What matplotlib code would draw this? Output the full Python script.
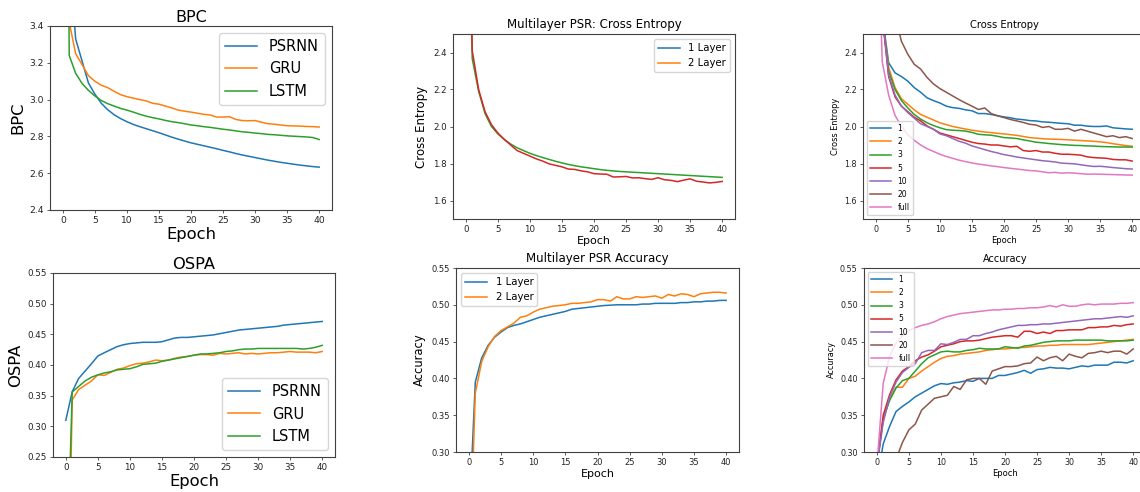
import numpy as np
import matplotlib
matplotlib.use('Agg')
import matplotlib.pyplot as plt
from matplotlib.lines import Line2D

plt.rcParams['font.family'] = ['DejaVu Sans']
plt.rcParams['axes.edgecolor'] = '#404040'
plt.rcParams['xtick.color'] = '#404040'
plt.rcParams['ytick.color'] = '#404040'
plt.rcParams['xtick.labelcolor'] = '#222222'
plt.rcParams['ytick.labelcolor'] = '#222222'

epochs = np.arange(41)

# BPC
bpc_psrnn = [5.0, 3.8, 3.33, 3.21, 3.09, 3.03, 2.98, 2.945, 2.918, 2.897, 2.88, 2.865, 2.853, 2.842, 2.831,
             2.82, 2.808, 2.796, 2.785, 2.775, 2.765, 2.757, 2.749, 2.741, 2.733, 2.724, 2.716, 2.707,
             2.699, 2.692, 2.685, 2.678, 2.671, 2.665, 2.659, 2.654, 2.649, 2.644, 2.640, 2.636, 2.633]
bpc_gru = [4.5, 3.42, 3.25, 3.19, 3.13, 3.10, 3.078, 3.065, 3.045, 3.027, 3.016, 3.008, 3.0, 2.993, 2.98,
           2.975, 2.965, 2.955, 2.943, 2.937, 2.932, 2.926, 2.92, 2.916, 2.905, 2.905, 2.907, 2.892,
           2.886, 2.885, 2.886, 2.877, 2.869, 2.866, 2.862, 2.858, 2.857, 2.856, 2.854, 2.853, 2.851]
bpc_lstm = [8.0, 3.24, 3.143, 3.088, 3.05, 3.02, 2.995, 2.978, 2.965, 2.952, 2.943, 2.932, 2.92, 2.91,
            2.902, 2.895, 2.887, 2.88, 2.875, 2.869, 2.862, 2.858, 2.853, 2.849, 2.844, 2.839, 2.835,
            2.83, 2.825, 2.822, 2.818, 2.815, 2.811, 2.809, 2.806, 2.803, 2.801, 2.799, 2.797, 2.794, 2.783]

# OSPA
ospa_psrnn = [0.310, 0.3565, 0.378, 0.39, 0.402, 0.4147, 0.42, 0.425, 0.43, 0.433, 0.435, 0.436, 0.437,
              0.437, 0.437, 0.438, 0.441, 0.444, 0.445, 0.445, 0.446, 0.447, 0.448, 0.449, 0.451, 0.453,
              0.455, 0.457, 0.458, 0.459, 0.46, 0.461, 0.462, 0.463, 0.465, 0.466, 0.467, 0.468, 0.469,
              0.47, 0.471]
ospa_gru = [-0.2, 0.343, 0.36, 0.367, 0.374, 0.384, 0.383, 0.388, 0.393, 0.395, 0.399, 0.402, 0.403, 0.405,
            0.408, 0.407, 0.408, 0.411, 0.413, 0.414, 0.416, 0.417, 0.417, 0.416, 0.419, 0.418, 0.419,
            0.42, 0.418, 0.419, 0.418, 0.419, 0.42, 0.42, 0.421, 0.422, 0.421, 0.421, 0.421, 0.42, 0.422]
ospa_lstm = [0.0, 0.356, 0.365, 0.374, 0.38, 0.384, 0.387, 0.389, 0.392, 0.393, 0.394, 0.397, 0.401, 0.402,
             0.403, 0.406, 0.408, 0.41, 0.412, 0.414, 0.416, 0.418, 0.418, 0.419, 0.42, 0.422, 0.423,
             0.425, 0.426, 0.426, 0.427, 0.427, 0.427, 0.427, 0.427, 0.427, 0.427, 0.426, 0.427, 0.429, 0.432]

# Multilayer PSR cross entropy
ml_ce_1 = [4.0, 2.367, 2.19, 2.07, 2.0, 1.96, 1.93, 1.905, 1.885, 1.87, 1.855, 1.843, 1.832, 1.822, 1.812,
           1.803, 1.795, 1.788, 1.782, 1.777, 1.772, 1.767, 1.763, 1.76, 1.757, 1.755, 1.753, 1.751,
           1.749, 1.747, 1.745, 1.743, 1.741, 1.739, 1.737, 1.735, 1.733, 1.731, 1.729, 1.727, 1.725]
ml_ce_2 = [4.5, 2.41, 2.2, 2.08, 2.01, 1.965, 1.93, 1.9, 1.87, 1.855, 1.84, 1.825, 1.813, 1.798, 1.79,
           1.782, 1.77, 1.768, 1.76, 1.755, 1.745, 1.743, 1.742, 1.727, 1.728, 1.73, 1.722, 1.723,
           1.718, 1.714, 1.723, 1.712, 1.709, 1.702, 1.71, 1.717, 1.704, 1.7, 1.695, 1.698, 1.703]

# Multilayer PSR accuracy
ml_acc_1 = [0.2, 0.395, 0.428, 0.445, 0.456, 0.463, 0.469, 0.472, 0.474, 0.477, 0.48, 0.483, 0.485, 0.487,
            0.489, 0.491, 0.494, 0.495, 0.496, 0.497, 0.498, 0.499, 0.4995, 0.5, 0.5, 0.5, 0.5, 0.501,
            0.501, 0.502, 0.502, 0.502, 0.502, 0.503, 0.503, 0.504, 0.504, 0.505, 0.505, 0.506, 0.506]
ml_acc_2 = [0.11, 0.38, 0.423, 0.443, 0.457, 0.465, 0.47, 0.475, 0.483, 0.485, 0.49, 0.494, 0.496, 0.498,
            0.499, 0.5, 0.502, 0.502, 0.503, 0.504, 0.507, 0.507, 0.505, 0.511, 0.508, 0.508, 0.511,
            0.51, 0.511, 0.512, 0.509, 0.514, 0.512, 0.515, 0.514, 0.511, 0.515, 0.516, 0.517, 0.517, 0.516]

# Cross entropy by window
window_labels = ['1', '2', '3', '5', '10', '20', 'full']
ce_w1 = [3.2, 2.6, 2.345, 2.29, 2.27, 2.245, 2.21, 2.185, 2.155, 2.14, 2.127, 2.11, 2.102, 2.098, 2.09,
         2.085, 2.07, 2.07, 2.065, 2.058, 2.052, 2.047, 2.04, 2.037, 2.032, 2.03, 2.025, 2.023, 2.02,
         2.017, 2.015, 2.007, 2.007, 2.002, 2.0, 2.0, 2.003, 1.993, 1.99, 1.987, 1.985]
ce_w2 = [3.5, 2.6, 2.32, 2.21, 2.15, 2.12, 2.09, 2.065, 2.05, 2.035, 2.02, 2.01, 2.0, 1.993, 1.986, 1.98,
         1.975, 1.97, 1.967, 1.963, 1.96, 1.956, 1.952, 1.946, 1.94, 1.937, 1.934, 1.932, 1.931, 1.93,
         1.928, 1.926, 1.924, 1.922, 1.92, 1.917, 1.913, 1.907, 1.902, 1.897, 1.893]
ce_w3 = [3.5, 2.6, 2.3, 2.2, 2.14, 2.1, 2.065, 2.04, 2.02, 2.005, 1.993, 1.983, 1.98, 1.978, 1.975, 1.968,
         1.958, 1.955, 1.953, 1.947, 1.94, 1.938, 1.935, 1.928, 1.922, 1.915, 1.912, 1.908, 1.905,
         1.902, 1.9, 1.898, 1.897, 1.895, 1.894, 1.892, 1.891, 1.89, 1.889, 1.889, 1.889]
ce_w5 = [3.5, 2.6, 2.27, 2.16, 2.11, 2.08, 2.05, 2.03, 2.003, 1.985, 1.965, 1.955, 1.945, 1.935, 1.925,
         1.915, 1.908, 1.905, 1.9, 1.9, 1.895, 1.89, 1.893, 1.87, 1.866, 1.87, 1.862, 1.862, 1.855,
         1.85, 1.85, 1.848, 1.845, 1.836, 1.832, 1.83, 1.828, 1.822, 1.82, 1.82, 1.813]
ce_w10 = [3.5, 2.6, 2.28, 2.17, 2.11, 2.075, 2.045, 2.015, 2.0, 1.985, 1.96, 1.95, 1.935, 1.92, 1.91,
          1.895, 1.885, 1.875, 1.865, 1.857, 1.848, 1.842, 1.835, 1.83, 1.825, 1.82, 1.815, 1.812,
          1.808, 1.802, 1.8, 1.798, 1.793, 1.788, 1.784, 1.785, 1.782, 1.778, 1.775, 1.772, 1.77]
ce_w20 = [4.0, 3.5, 3.0, 2.6, 2.46, 2.39, 2.336, 2.31, 2.265, 2.23, 2.205, 2.185, 2.165, 2.145, 2.127,
          2.11, 2.092, 2.10, 2.07, 2.058, 2.048, 2.038, 2.03, 2.022, 2.012, 2.008, 1.995, 2.0, 1.985,
          1.985, 1.99, 1.975, 1.985, 1.975, 1.965, 1.955, 1.945, 1.95, 1.94, 1.945, 1.935]
ce_full = [3.5, 2.35, 2.17, 2.06, 2.0, 1.955, 1.925, 1.9, 1.88, 1.865, 1.85, 1.838, 1.828, 1.818, 1.81,
           1.803, 1.797, 1.792, 1.787, 1.783, 1.778, 1.774, 1.77, 1.766, 1.762, 1.76, 1.755, 1.75,
           1.752, 1.748, 1.75, 1.748, 1.745, 1.742, 1.743, 1.742, 1.741, 1.74, 1.739, 1.738, 1.737]

# Accuracy by window
acc_w1 = [0.26, 0.311, 0.335, 0.355, 0.362, 0.368, 0.375, 0.38, 0.385, 0.39, 0.393, 0.392, 0.394, 0.395,
          0.397, 0.396, 0.4, 0.4, 0.4, 0.404, 0.404, 0.406, 0.408, 0.411, 0.407, 0.412, 0.413, 0.415,
          0.414, 0.414, 0.413, 0.415, 0.417, 0.416, 0.418, 0.418, 0.418, 0.422, 0.422, 0.421, 0.424]
acc_w2 = [0.28, 0.345, 0.372, 0.388, 0.388, 0.4, 0.403, 0.41, 0.416, 0.422, 0.427, 0.43, 0.431, 0.433,
          0.434, 0.435, 0.436, 0.438, 0.439, 0.44, 0.44, 0.441, 0.442, 0.442, 0.443, 0.444, 0.444,
          0.445, 0.445, 0.446, 0.446, 0.446, 0.446, 0.446, 0.447, 0.448, 0.449, 0.45, 0.451, 0.452, 0.453]
acc_w3 = [0.28, 0.345, 0.37, 0.387, 0.397, 0.4, 0.41, 0.42, 0.428, 0.432, 0.436, 0.437, 0.436, 0.436,
          0.438, 0.439, 0.441, 0.44, 0.44, 0.44, 0.443, 0.442, 0.441, 0.444, 0.445, 0.447, 0.449, 0.45,
          0.451, 0.451, 0.451, 0.452, 0.452, 0.452, 0.452, 0.452, 0.451, 0.451, 0.451, 0.451, 0.452]
acc_w5 = [0.28, 0.35, 0.378, 0.398, 0.41, 0.416, 0.424, 0.429, 0.432, 0.437, 0.443, 0.445, 0.447, 0.45,
          0.451, 0.451, 0.452, 0.454, 0.456, 0.457, 0.458, 0.458, 0.456, 0.464, 0.464, 0.461, 0.463,
          0.461, 0.465, 0.465, 0.466, 0.466, 0.466, 0.469, 0.469, 0.47, 0.47, 0.472, 0.471, 0.473, 0.474]
acc_w10 = [0.28, 0.34, 0.375, 0.395, 0.408, 0.415, 0.42, 0.435, 0.438, 0.438, 0.447, 0.446, 0.449, 0.453,
           0.453, 0.458, 0.458, 0.461, 0.463, 0.466, 0.468, 0.47, 0.472, 0.472, 0.473, 0.473, 0.474,
           0.474, 0.475, 0.476, 0.477, 0.478, 0.479, 0.48, 0.481, 0.481, 0.482, 0.483, 0.484, 0.483, 0.485]
acc_w20 = [0.1, 0.15, 0.22, 0.29, 0.313, 0.33, 0.338, 0.357, 0.365, 0.373, 0.375, 0.377, 0.389, 0.385,
           0.398, 0.4, 0.4, 0.392, 0.41, 0.413, 0.416, 0.416, 0.417, 0.42, 0.421, 0.429, 0.424, 0.428,
           0.43, 0.424, 0.433, 0.43, 0.428, 0.434, 0.435, 0.437, 0.435, 0.437, 0.437, 0.433, 0.44]
acc_full = [0.28, 0.3935, 0.43, 0.448, 0.458, 0.465, 0.469, 0.472, 0.474, 0.477, 0.481, 0.484, 0.486,
            0.488, 0.489, 0.49, 0.491, 0.492, 0.493, 0.493, 0.494, 0.494, 0.495, 0.495, 0.496, 0.496,
            0.497, 0.499, 0.497, 0.5, 0.498, 0.498, 0.5, 0.501, 0.5, 0.501, 0.501, 0.501, 0.502, 0.502, 0.503]

W, H = 1140, 492
fig = plt.figure(figsize=(W / 100, H / 100), dpi=100)


def box(left, right, top, bottom):
    return [left / W, (H - bottom) / H, (right - left) / W, (bottom - top) / H]


LW = 1.1

# ---- BPC ----
ax = fig.add_axes(box(50, 332, 26, 210))
for y, lab in zip([bpc_psrnn, bpc_gru, bpc_lstm], ['PSRNN', 'GRU', 'LSTM']):
    ax.plot(epochs, y, lw=LW, label=lab)
ax.set_ylim(2.4, 3.4)
ax.set_xticks(range(0, 41, 5))
ax.set_title('BPC', fontsize=11.5, pad=3)
ax.set_xlabel('Epoch', fontsize=11.8, labelpad=1)
ax.set_ylabel('BPC', fontsize=11.8, labelpad=3)
ax.tick_params(labelsize=6.6, width=0.6, length=2.5, pad=2)
ax.legend(fontsize=10.5, loc='upper right', handlelength=2.2)

# ---- OSPA ----
ax = fig.add_axes(box(53, 335, 273, 457))
for y, lab in zip([ospa_psrnn, ospa_gru, ospa_lstm], ['PSRNN', 'GRU', 'LSTM']):
    ax.plot(epochs, y, lw=LW, label=lab)
ax.set_ylim(0.25, 0.55)
ax.set_xticks(range(0, 41, 5))
ax.set_title('OSPA', fontsize=11.7, pad=3)
ax.set_xlabel('Epoch', fontsize=11.8, labelpad=1)
ax.set_ylabel('OSPA', fontsize=11.8, labelpad=3)
ax.tick_params(labelsize=6.3, width=0.6, length=2.5, pad=2)
ax.legend(fontsize=10.5, loc='lower right', handlelength=2.2)

# ---- Multilayer PSR: Cross Entropy ----
ax = fig.add_axes(box(453, 735, 34, 219))
ax.plot(epochs, ml_ce_1, lw=LW, color='C2')
ax.plot(epochs, ml_ce_2, lw=LW, color='C3')
ax.set_ylim(1.5, 2.5)
ax.set_xticks(range(0, 41, 5))
ax.set_yticks([1.6, 1.8, 2.0, 2.2, 2.4])
ax.set_title('Multilayer PSR: Cross Entropy', fontsize=8.5, pad=4)
ax.set_xlabel('Epoch', fontsize=8.0, labelpad=1)
ax.set_ylabel('Cross Entropy', fontsize=8.5, labelpad=4)
ax.tick_params(labelsize=6.2, width=0.6, length=2.5, pad=2)
proxies = [Line2D([], [], color='C0', lw=LW), Line2D([], [], color='C1', lw=LW)]
ax.legend(proxies, ['1 Layer', '2 Layer'], fontsize=7.3, loc='upper right', handlelength=2.2)

# ---- Multilayer PSR Accuracy ----
ax = fig.add_axes(box(456, 739, 268, 452))
ax.plot(epochs, ml_acc_1, lw=LW, label='1 Layer')
ax.plot(epochs, ml_acc_2, lw=LW, label='2 Layer')
ax.set_ylim(0.3, 0.55)
ax.set_xticks(range(0, 41, 5))
ax.set_title('Multilayer PSR Accuracy', fontsize=8.5, pad=4)
ax.set_xlabel('Epoch', fontsize=8.0, labelpad=1)
ax.set_ylabel('Accuracy', fontsize=8.3, labelpad=4)
ax.tick_params(labelsize=6.0, width=0.6, length=2.5, pad=2)
ax.legend(fontsize=7.3, loc='upper left', handlelength=2.2)

# ---- Cross Entropy by window ----
ax = fig.add_axes(box(863, 1145, 34, 219))
for y, lab in zip([ce_w1, ce_w2, ce_w3, ce_w5, ce_w10, ce_w20, ce_full], window_labels):
    ax.plot(epochs, y, lw=LW, label=lab)
ax.set_ylim(1.5, 2.5)
ax.set_xticks(range(0, 41, 5))
ax.set_yticks([1.6, 1.8, 2.0, 2.2, 2.4])
ax.set_title('Cross Entropy', fontsize=7.2, pad=4)
ax.set_xlabel('Epoch', fontsize=6.0, labelpad=1)
ax.set_ylabel('Cross Entropy', fontsize=5.9, labelpad=3)
ax.tick_params(labelsize=5.8, width=0.6, length=2.5, pad=2)
ax.legend(fontsize=5.5, loc='lower left', handlelength=2.8, labelspacing=0.55)

# ---- Accuracy by window ----
ax = fig.add_axes(box(864, 1146, 268, 452))
for y, lab in zip([acc_w1, acc_w2, acc_w3, acc_w5, acc_w10, acc_w20, acc_full], window_labels):
    ax.plot(epochs, y, lw=LW, label=lab)
ax.set_ylim(0.3, 0.55)
ax.set_xticks(range(0, 41, 5))
ax.set_title('Accuracy', fontsize=7.0, pad=4)
ax.set_xlabel('Epoch', fontsize=6.0, labelpad=1)
ax.set_ylabel('Accuracy', fontsize=5.8, labelpad=3)
ax.tick_params(labelsize=5.8, width=0.6, length=2.5, pad=2)
ax.legend(fontsize=5.5, loc='upper left', handlelength=2.8, labelspacing=0.55)

fig.savefig('out.png', dpi=100)
